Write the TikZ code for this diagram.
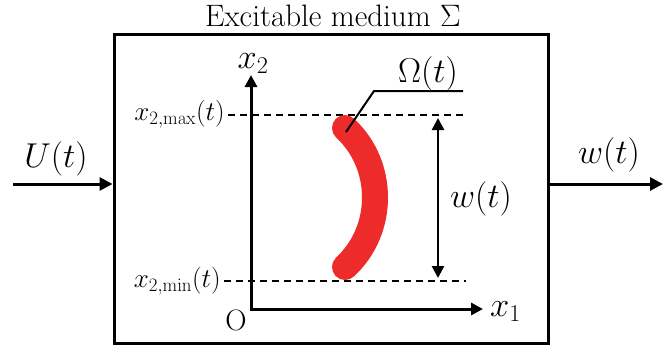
\RequirePackage{fix-cm}
\documentclass[tikz,border=0pt]{standalone}
\usetikzlibrary{arrows.meta}
\definecolor{bandred}{RGB}{238,43,43}
\tikzset{
  frame/.style={draw, line width=3pt, minimum width=434pt, minimum height=309pt, inner sep=0pt},
  flow/.style={line width=3pt, -{Triangle[length=13pt,width=13pt]}},
  axis/.style={line width=3pt, {Triangle[length=12pt,width=12pt]}-{Triangle[length=12pt,width=12pt]}},
  level/.style={line width=2.6pt, dash pattern=on 7pt off 5pt},
  span/.style={line width=2.6pt, {Triangle[length=12pt,width=12pt]}-{Triangle[length=12pt,width=12pt]}},
  band/.style={line width=26pt, line cap=round, draw=bandred},
  leader/.style={line width=2pt},
  biglab/.style={inner sep=0pt, font=\fontsize{34.5}{40}\selectfont},
  midlab/.style={inner sep=0pt, font=\fontsize{27}{32}\selectfont},
  olab/.style={inner sep=0pt, font=\fontsize{29.5}{34}\selectfont},
  titlelab/.style={inner sep=0pt, font=\fontsize{31}{36}\selectfont},
}
\begin{document}
\begin{tikzpicture}[x=1pt, y=-1pt]
\useasboundingbox (0,0) rectangle (664,346);
% box
\node[frame] (medium) at (331,188.5) {};
\node[titlelab, anchor=base] (title) at (333,26) {Excitable medium $\Sigma$};
% input / output
\coordinate (in) at (13,184);
\coordinate (out) at (663,184);
\draw[flow] (in) -- (in -| medium.west);
\draw[flow] (out -| medium.east) -- (out);
\node[biglab, anchor=base] (U) at (56,167) {$U(t)$};
\node[biglab, anchor=base] (wout) at (609,163) {$w(t)$};
% axes
\coordinate (origin) at (251,309);
\coordinate (x2tip) at (251,75);
\coordinate (x1tip) at (483,309);
\draw[axis] (x2tip) -- (origin) -- (x1tip);
\node[biglab, anchor=base] (x2lab) at (253,68) {$x_2$};
\node[biglab, anchor=base west] (x1lab) at (490,316) {$x_1$};
\node[olab, anchor=base] (olab) at (236,330) {O};
% levels
\coordinate (maxL) at (228,115);
\coordinate (maxR) at (466,115);
\coordinate (minL) at (224,281);
\coordinate (minR) at (466,281);
\draw[level] (maxL) -- (maxR);
\draw[level] (minL) -- (minR);
\node[midlab, anchor=base east] (xmax) at (225,120) {$x_{2,\mathrm{max}}(t)$};
\node[midlab, anchor=base east] (xmin) at (221,287) {$x_{2,\mathrm{min}}(t)$};
% width arrow
\coordinate (wtop) at (438,118);
\coordinate (wbot) at (438,278);
\draw[span] (wtop) -- (wbot);
\node[biglab, anchor=base] (win) at (481,207) {$w(t)$};
% red band
\coordinate (bandtop) at (345,128);
\coordinate (bandbot) at (345,267);
\draw[band] (bandtop) .. controls (385,165) and (385,230) .. (bandbot);
% leader to Omega
\coordinate (ltip) at (346,132);
\coordinate (lknee) at (374,91);
\coordinate (lend) at (463,91);
\draw[leader] (ltip) -- (lknee) -- (lend);
\node[biglab, anchor=base] (omega) at (428,82) {$\Omega(t)$};
\end{tikzpicture}
\end{document}
